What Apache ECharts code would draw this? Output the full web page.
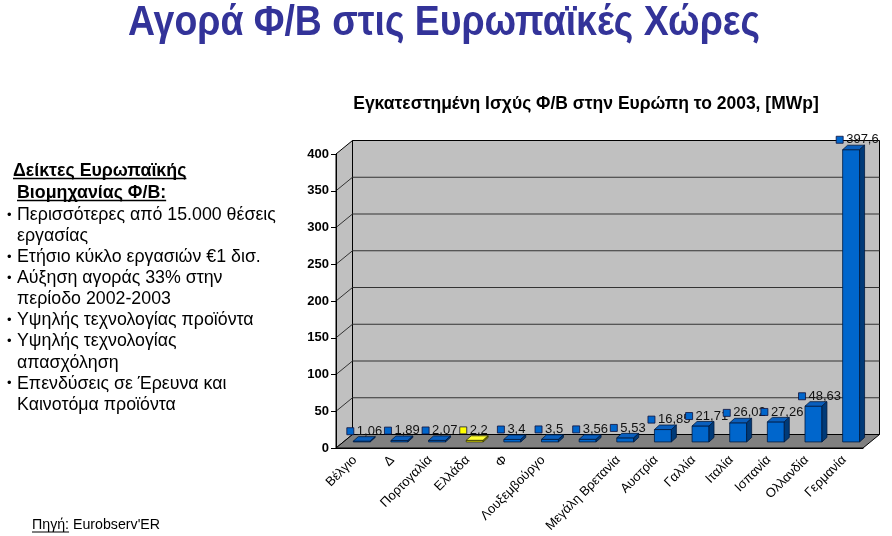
<!DOCTYPE html>
<html>
<head>
<meta charset="utf-8">
<script src="https://cdn.jsdelivr.net/npm/echarts@6/dist/echarts.min.js"></script>
<style>
html, body { margin: 0; padding: 0; background: #fff; }
#chart { width: 892px; height: 536px; }
</style>
</head>
<body>
<div id="chart"></div>
<script>
// data
const categories = ['Βέλγιο', 'Δ', 'Πορτογαλία', 'Ελλάδα', 'Φ', 'Λουξεμβούργο', '', 'Μεγάλη Βρετανία',
    'Αυστρία', 'Γαλλία', 'Ιταλία', 'Ισπανία', 'Ολλανδία', 'Γερμανία'];
const values = [1.06, 1.89, 2.07, 2.2, 3.4, 3.5, 3.56, 5.53, 16.85, 21.71, 26.02, 27.26, 48.63, 397.6];
const highlight = 'Ελλάδα';
const yMin = 0, yMax = 400, yStep = 50;

const pageTitle = 'Αγορά Φ/Β στις Ευρωπαϊκές Χώρες';
const chartTitle = 'Εγκατεστημένη Ισχύς Φ/Β στην Ευρώπη το 2003, [MWp]';
const heading = ['Δείκτες Ευρωπαϊκής', 'Βιομηχανίας Φ/Β:'];
const bullets = [
    ['Περισσότερες από 15.000 θέσεις', 'εργασίας'],
    ['Ετήσιο κύκλο εργασιών €1 δισ.'],
    ['Αύξηση αγοράς 33% στην', 'περίοδο 2002-2003'],
    ['Υψηλής τεχνολογίας προϊόντα'],
    ['Υψηλής τεχνολογίας', 'απασχόληση'],
    ['Επενδύσεις σε Έρευνα και', 'Καινοτόμα προϊόντα']
];
const sourceLabel = 'Πηγή:';
const sourceName = "Eurobserv'ER";

// 3d look
const DX = 16.5, DY = 13.5;

const FONT = '"Liberation Sans", Arial, sans-serif';
const measureCtx = document.createElement('canvas').getContext('2d');
function textWidth(text, font) {
    measureCtx.font = font;
    return measureCtx.measureText(text).width;
}

function renderWalls(params, api) {
    const bw = api.size([1, 0])[0];
    const x0 = api.coord([0, 0])[0] - bw / 2;
    const x1 = api.coord([categories.length - 1, 0])[0] + bw / 2;
    const yAt = v => api.coord([0, v])[1];
    const y0 = yAt(yMin), yTop = yAt(yMax);
    const kids = [];
    kids.push({
        type: 'polygon',
        shape: { points: [[x0 + DX, yTop - DY], [x1 + DX, yTop - DY], [x1 + DX, y0 - DY], [x0 + DX, y0 - DY]] },
        style: { fill: '#c0c0c0', stroke: '#000', lineWidth: 1 }
    });
    kids.push({
        type: 'polygon',
        shape: { points: [[x0, yTop], [x0 + DX, yTop - DY], [x0 + DX, y0 - DY], [x0, y0]] },
        style: { fill: '#c0c0c0', stroke: '#000', lineWidth: 1 }
    });
    for (let v = yMin + yStep; v < yMax; v += yStep) {
        const y = yAt(v);
        kids.push({
            type: 'polyline',
            shape: { points: [[x0, y], [x0 + DX, y - DY], [x1 + DX, y - DY]] },
            style: { stroke: '#333', lineWidth: 1, fill: null }
        });
    }
    kids.push({
        type: 'polygon',
        shape: { points: [[x0, y0], [x1, y0], [x1 + DX, y0 - DY], [x0 + DX, y0 - DY]] },
        style: { fill: '#808080', stroke: '#000', lineWidth: 1 }
    });
    return { type: 'group', children: kids };
}

function renderBar(params, api) {
    const i = api.value(0), v = api.value(1);
    const top = api.coord([i, v]);
    const base = api.coord([i, 0]);
    const bw = api.size([1, 0])[0];
    const w = bw * 0.45;
    const fx = DX * 0.42, fy = DY * 0.45;
    const bx = 5, by = 4.5;
    const xl = top[0] - w / 2 + fx, xr = xl + w;
    const yt = top[1] - fy, yb = base[1] - fy;
    const yellow = categories[i] === highlight;
    const front = yellow ? '#ffff00' : '#0066cc';
    const topC = yellow ? '#ffff33' : '#0a5fbd';
    const side = yellow ? '#9a9a00' : '#003a78';
    const edge = yellow ? '#333300' : '#001a40';
    const ly = top[1] - 16;
    return {
        type: 'group',
        children: [
            { type: 'rect', shape: { x: xl, y: yt, width: w, height: yb - yt }, style: { fill: front, stroke: edge, lineWidth: 0.8 } },
            { type: 'polygon', shape: { points: [[xl, yt], [xr, yt], [xr + bx, yt - by], [xl + bx, yt - by]] }, style: { fill: topC, stroke: edge, lineWidth: 0.8 } },
            { type: 'polygon', shape: { points: [[xr, yt], [xr + bx, yt - by], [xr + bx, yb - by], [xr, yb]] }, style: { fill: side, stroke: edge, lineWidth: 0.8 } },
            { type: 'rect', shape: { x: top[0] - 8, y: ly - 3.5, width: 7, height: 7 }, style: { fill: front, stroke: '#10103a', lineWidth: 0.8 } },
            {
                type: 'text', x: top[0] + 2, y: ly,
                style: { text: String(v).replace('.', ','), font: '13px ' + FONT, fill: '#111', align: 'left', verticalAlign: 'middle' }
            }
        ]
    };
}

// side texts
const graphics = [];
const titleFont = 'bold 42px ' + FONT;
graphics.push({
    type: 'text', x: 444, y: 23,
    scaleX: 632 / textWidth(pageTitle, titleFont),
    style: { text: pageTitle, font: titleFont, fill: '#333399', align: 'center', verticalAlign: 'middle' }
});
graphics.push({
    type: 'text', x: 586, y: 104,
    style: { text: chartTitle, font: 'bold 17.5px ' + FONT, fill: '#000', align: 'center', verticalAlign: 'middle' }
});
const headFont = 'bold 17.8px ' + FONT;
heading.forEach((t, k) => {
    const x = k === 0 ? 13 : 17, y = 171 + k * 22;
    graphics.push({ type: 'text', x: x, y: y, style: { text: t, font: headFont, fill: '#000', align: 'left', verticalAlign: 'middle' } });
    graphics.push({ type: 'line', shape: { x1: x, y1: y + 7.5, x2: x + textWidth(t, headFont), y2: y + 7.5 }, style: { stroke: '#000', lineWidth: 1.4 } });
});
const bodyFont = '17.8px ' + FONT;
let line = 0;
bullets.forEach(item => {
    item.forEach((t, k) => {
        const y = 215 + line * 21.1;
        if (k === 0) {
            graphics.push({ type: 'text', x: 7, y: y, style: { text: '•', font: '13px ' + FONT, fill: '#000', align: 'left', verticalAlign: 'middle' } });
        }
        graphics.push({ type: 'text', x: 17, y: y, style: { text: t, font: bodyFont, fill: '#000', align: 'left', verticalAlign: 'middle' } });
        line++;
    });
});
const srcFont = '14.2px ' + FONT;
const srcW = textWidth(sourceLabel, srcFont);
graphics.push({ type: 'text', x: 32, y: 525, style: { text: sourceLabel, font: srcFont, fill: '#000', align: 'left', verticalAlign: 'middle' } });
graphics.push({ type: 'line', shape: { x1: 32, y1: 532, x2: 32 + srcW, y2: 532 }, style: { stroke: '#000', lineWidth: 1 } });
graphics.push({ type: 'text', x: 32 + srcW + textWidth(' ', srcFont), y: 525, style: { text: sourceName, font: srcFont, fill: '#000', align: 'left', verticalAlign: 'middle' } });

const chart = echarts.init(document.getElementById('chart'), null, { renderer: 'canvas' });
chart.setOption({
    animation: false,
    backgroundColor: '#fff',
    graphic: graphics,
    grid: { left: 336, right: 29, top: 154, bottom: 88 },
    xAxis: {
        type: 'category',
        data: categories,
        z: 10,
        axisLine: { lineStyle: { color: '#000', width: 1 } },
        axisTick: { alignWithLabel: false, length: 6, lineStyle: { color: '#000' } },
        axisLabel: { interval: 0, rotate: 45, margin: 10, color: '#000', fontSize: 13, fontFamily: FONT },
        splitLine: { show: false }
    },
    yAxis: {
        type: 'value',
        min: yMin, max: yMax, interval: yStep,
        z: 10,
        axisLine: { show: true, lineStyle: { color: '#000', width: 1 } },
        axisTick: { show: true, length: 5, lineStyle: { color: '#000' } },
        axisLabel: { color: '#000', fontSize: 13, fontWeight: 'bold', fontFamily: FONT, margin: 7 },
        splitLine: { show: false }
    },
    series: [
        {
            type: 'custom',
            z: 1,
            silent: true,
            renderItem: renderWalls,
            data: [[0, 0]],
            encode: { x: 0, y: 1 }
        },
        {
            type: 'custom',
            z: 2,
            renderItem: renderBar,
            data: values.map((v, i) => [i, v]),
            encode: { x: 0, y: 1 }
        }
    ]
});
</script>
</body>
</html>
